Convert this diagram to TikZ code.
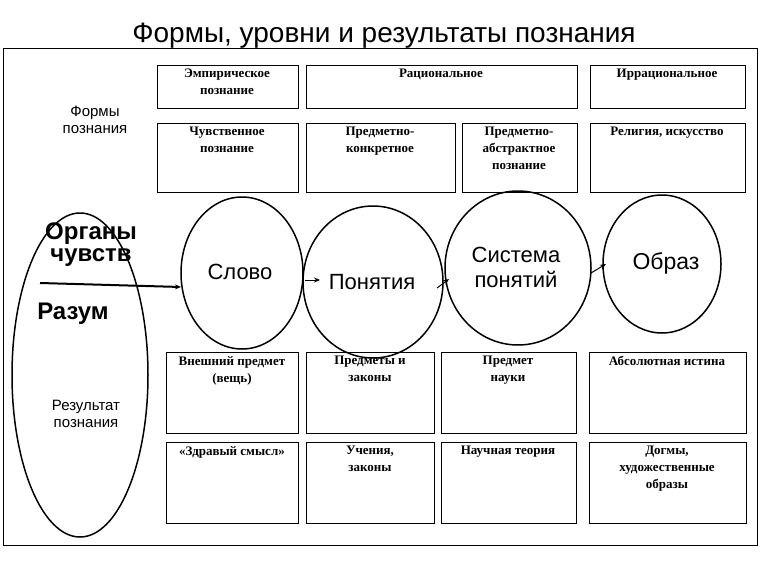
\documentclass[tikz,border=0pt]{standalone}
\usepackage{fontspec}
\setmainfont{Liberation Serif}
\newfontfamily\sans{Liberation Sans}
\usetikzlibrary{arrows.meta}
\begin{document}
\begin{tikzpicture}[x=1pt,y=-1pt,
  bx/.style={draw,line width=1pt},
  bt/.style={anchor=north,align=center,inner sep=2pt,font=\bfseries\fontsize{13}{17}\selectfont},
  ov/.style={draw,line width=1.5pt},
  big/.style={font=\sans\fontsize{22}{25}\selectfont},
  sm/.style={font=\sans\fontsize{15}{17}\selectfont,align=center},
  ar/.style={-{Stealth[length=6pt,width=5pt]},line width=1pt}]
\useasboundingbox (0,0) rectangle (771,573);
\node[font=\sans\fontsize{28}{30}\selectfont] (title) at (384,36) {Формы, уровни и результаты познания};
\draw[line width=1pt] (3,48) rectangle (757,545);
% row 1
\draw[bx] (157,65) rectangle (298,108); \node[bt] (a1) at (227,67) {Эмпирическое\\познание};
\draw[bx] (306,65) rectangle (577,108); \node[bt] (a2) at (441,67) {Рациональное};
\draw[bx] (590,65) rectangle (745,108); \node[bt] (a3) at (667,67) {Иррациональное};
% row 2
\draw[bx] (157,123) rectangle (298,192); \node[bt] (b1) at (227,125) {Чувственное\\познание};
\draw[bx] (306,123) rectangle (455,192); \node[bt] (b2) at (380,125) {Предметно-\\конкретное};
\draw[bx] (462,123) rectangle (577,192); \node[bt] (b3) at (519,125) {Предметно-\\абстрактное\\познание};
\draw[bx] (590,123) rectangle (745,192); \node[bt] (b4) at (667,125) {Религия, искусство};
% row 3
\draw[bx] (166,352) rectangle (298,433); \node[bt] (c1) at (232,354) {Внешний предмет\\(вещь)};
\draw[bx] (306,352) rectangle (434,433); \node[bt] (c2) at (370,354) {Предметы и\\законы};
\draw[bx] (441,352) rectangle (576,433); \node[bt] (c3) at (508,354) {Предмет\\науки};
\draw[bx] (589,352) rectangle (746,433); \node[bt] (c4) at (667,354) {Абсолютная истина};
% row 4
\draw[bx] (166,442) rectangle (298,523); \node[bt] (d1) at (232,444) {«Здравый смысл»};
\draw[bx] (306,442) rectangle (434,523); \node[bt] (d2) at (370,444) {Учения,\\законы};
\draw[bx] (441,442) rectangle (576,523); \node[bt] (d3) at (508,444) {Научная теория};
\draw[bx] (589,442) rectangle (746,523); \node[bt] (d4) at (667,444) {Догмы,\\художественные\\образы};
% labels
\node[sm] (f) at (95,120) {Формы\\познания};
\node[sm] (r) at (86,414) {Результат\\познания};
% ellipses
\draw[ov] (80,375) ellipse (68 and 162);
\draw[ov] (242,273) ellipse (61 and 76);
\draw[ov] (373,282) ellipse (70 and 76);
\draw[ov] (518,268) ellipse (73 and 77);
\draw[ov] (662,264) ellipse (59 and 69);
\node[align=center,font=\sans\bfseries\fontsize{24}{22}\selectfont] (org) at (91,245) {Органы\\чувств};
\node[font=\sans\bfseries\fontsize{24}{24}\selectfont] (raz) at (73,314) {Разум};
\node[big] (slovo) at (240,272) {Слово};
\node[big] (pon) at (372,282) {Понятия};
\node[big,align=center] (sys) at (516,267) {Система\\понятий};
\node[big,font=\sans\fontsize{23}{25}\selectfont] (obr) at (666,263) {Образ};
\coordinate (s0) at (40,283); \coordinate (s1) at (181,287);
\draw[ar,line width=2pt] (s0) -- (s1);
\coordinate (p0) at (305,280); \coordinate (p1) at (320,280);
\draw[ar] (p0) -- (p1);
\coordinate (q0) at (437,288); \coordinate (q1) at (449,279);
\draw[ar] (q0) -- (q1);
\coordinate (o0) at (591,273); \coordinate (o1) at (606,264);
\draw[ar] (o0) -- (o1);
\end{tikzpicture}
\end{document}
